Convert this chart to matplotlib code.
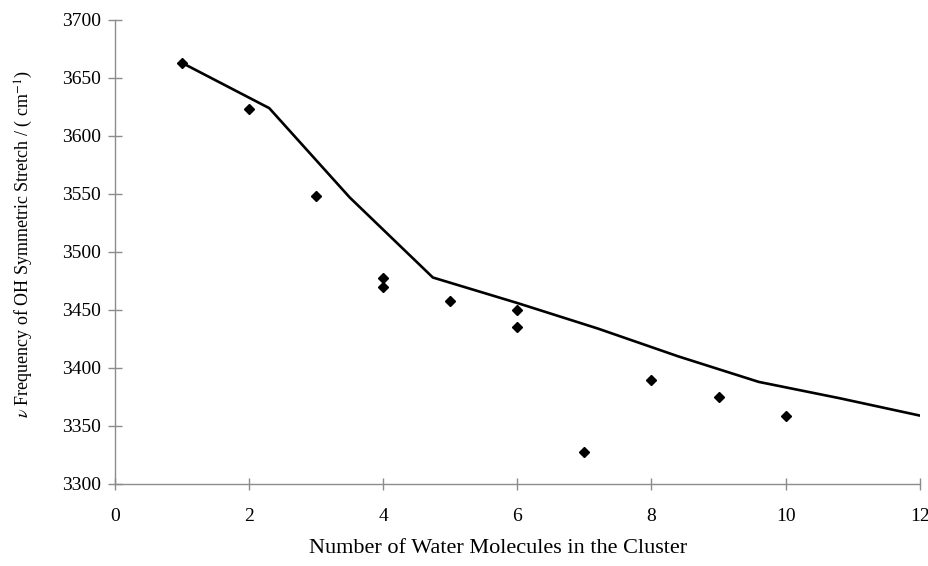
import matplotlib
matplotlib.use("Agg")
import matplotlib.pyplot as plt

# scatter: measured clusters
n_water = [1, 2, 3, 4, 4, 5, 6, 6, 7, 8, 9, 10]
freq_obs = [3663, 3623, 3548, 3478, 3470, 3458, 3450, 3435, 3328, 3390, 3375, 3359]

# line: fitted trend
n_fit = [1, 2.3, 3.5, 4.74, 6.0, 7.2, 8.4, 9.6, 10.8, 12]
freq_fit = [3663, 3624, 3547, 3478, 3456, 3434, 3410, 3388, 3374, 3359]

x_ticks = [0, 2, 4, 6, 8, 10, 12]
y_ticks = [3300, 3350, 3400, 3450, 3500, 3550, 3600, 3650, 3700]

plt.rcParams["font.family"] = ["Liberation Serif", "DejaVu Serif"]
plt.rcParams["mathtext.fontset"] = "stix"

fig = plt.figure(figsize=(9.29, 5.66), dpi=100)
ax = fig.add_axes([0.1238, 0.1449, 0.8662, 0.8198])

ax.plot(n_fit, freq_fit, color="black", lw=1.9, zorder=2)
ax.plot(n_water, freq_obs, ls="none", marker="D", ms=5.5, color="black", zorder=3)

ax.set_xlim(0, 12)
ax.set_ylim(3300, 3700)
ax.set_xticks(x_ticks)
ax.set_yticks(y_ticks)

for side in ("top", "right"):
    ax.spines[side].set_visible(False)
for side in ("left", "bottom"):
    ax.spines[side].set_color("#8c8c8c")
    ax.spines[side].set_linewidth(1.0)

ax.tick_params(direction="inout", width=1.0, color="#8c8c8c",
               labelsize=14, labelcolor="black")
ax.tick_params(axis="x", length=8, pad=13)
ax.tick_params(axis="y", length=9.5, pad=5.5)

ax.set_xlabel("Number of Water Molecules in the Cluster", fontsize=16)
ax.xaxis.set_label_coords(0.476, -0.118)
ax.set_ylabel(r"$\nu$ Frequency of OH Symmetric Stretch / ( cm$^{-1}$)",
              fontsize=13)
ax.yaxis.set_label_coords(-0.10, 0.517)

fig.savefig("out.png", dpi=100, facecolor="white")
